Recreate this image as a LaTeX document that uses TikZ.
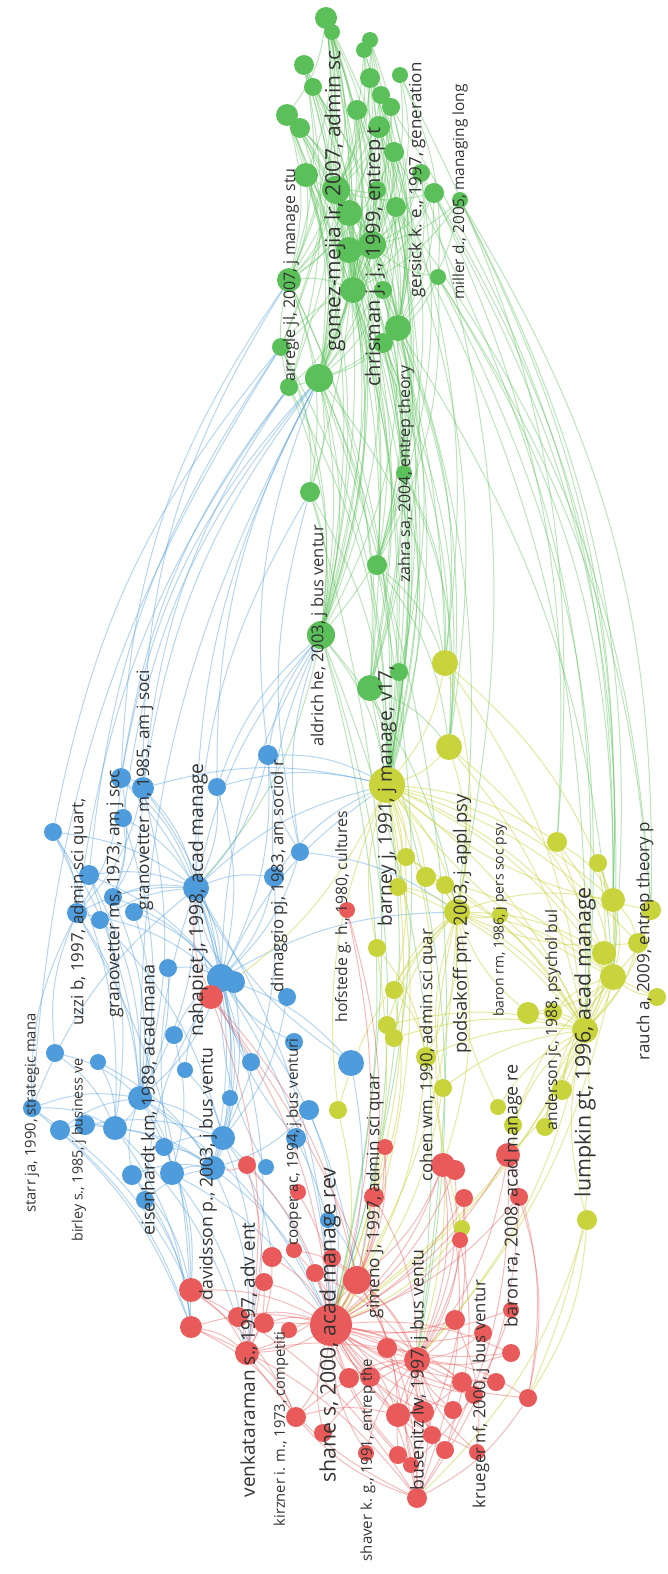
\documentclass[tikz,border=0pt]{standalone}
\usepackage{fontspec}
\setmainfont{Open Sans}
\usetikzlibrary{backgrounds}
\definecolor{gclr}{HTML}{5BC05A}
\definecolor{bclr}{HTML}{4E9CDB}
\definecolor{yclr}{HTML}{C9D33B}
\definecolor{rclr}{HTML}{E95A5A}
\begin{document}
\begin{tikzpicture}[x=1pt,y=-1pt,
    gnode/.style={circle,fill=gclr,inner sep=0pt,minimum size=#1},
    bnode/.style={circle,fill=bclr,inner sep=0pt,minimum size=#1},
    ynode/.style={circle,fill=yclr,inner sep=0pt,minimum size=#1},
    rnode/.style={circle,fill=rclr,inner sep=0pt,minimum size=#1},
    lbl/.style={rotate=90,inner sep=0pt,text=black!80,font=\fontsize{#1}{#1}\selectfont},
    gedge/.style={every edge/.style={draw=gclr,draw opacity=.42,line width=1pt,bend left=14}},
    bedge/.style={every edge/.style={draw=bclr,draw opacity=.42,line width=1pt,bend left=14}},
    yedge/.style={every edge/.style={draw=yclr,draw opacity=.5,line width=1pt,bend left=14}},
    redge/.style={every edge/.style={draw=rclr,draw opacity=.42,line width=1pt,bend left=14}},
    far/.style={bend left=16}]
    \useasboundingbox (0,0) rectangle (667,1574);

    % green cluster
    \node[gnode=22] (g1) at (326,18) {};
    \node[gnode=16] (g2) at (332,32) {};
    \node[gnode=16] (g3) at (370,40) {};
    \node[gnode=16] (g4) at (364,50) {};
    \node[gnode=20] (g5) at (304,65) {};
    \node[gnode=18] (g6) at (313,87) {};
    \node[gnode=20] (g7) at (370,78) {};
    \node[gnode=16] (g8) at (400,75) {};
    \node[gnode=18] (g9) at (381,95) {};
    \node[gnode=18] (g10) at (391,107) {};
    \node[gnode=20] (g11) at (357,110) {};
    \node[gnode=22] (g12) at (287,115) {};
    \node[gnode=20] (g13) at (300,128) {};
    \node[gnode=22] (g14) at (379,127) {};
    \node[gnode=20] (g15) at (394,152) {};
    \node[gnode=24] (g16) at (306,175) {};
    \node[gnode=28] (g17) at (336,190) {};
    \node[gnode=18] (g18) at (377,190) {};
    \node[gnode=18] (g19) at (421,173) {};
    \node[gnode=20] (g20) at (434,193) {};
    \node[gnode=16] (g21) at (460,200) {};
    \node[gnode=20] (g22) at (396,207) {};
    \node[gnode=26] (g23) at (349,213) {};
    \node[gnode=28] (g24) at (372,245) {};
    \node[gnode=26] (g25) at (349,250) {};
    \node[gnode=24] (g26) at (289,280) {};
    \node[gnode=16] (g27) at (438,277) {};
    \node[gnode=26] (g28) at (353,290) {};
    \node[gnode=18] (g29) at (383,290) {};
    \node[gnode=26] (g30) at (398,328) {};
    \node[gnode=20] (g31) at (383,343) {};
    \node[gnode=18] (g32) at (281,347) {};
    \node[gnode=28] (g33) at (319,378) {};
    \node[gnode=18] (g34) at (289,387) {};
    \node[gnode=20] (g35) at (310,492) {};
    \node[gnode=16] (g36) at (404,473) {};
    \node[gnode=20] (g37) at (377,565) {};
    \node[gnode=28] (g38) at (321,635) {};
    \node[gnode=18] (g39) at (399,672) {};
    \node[gnode=26] (g40) at (370,688) {};

    % blue cluster
    \node[bnode=20] (b1) at (268,755) {};
    \node[bnode=20] (b2) at (121,778) {};
    \node[bnode=22] (b3) at (143,788) {};
    \node[bnode=18] (b4) at (217,787) {};
    \node[bnode=18] (b5) at (123,818) {};
    \node[bnode=18] (b6) at (53,832) {};
    \node[bnode=20] (b7) at (89,875) {};
    \node[bnode=18] (b8) at (113,897) {};
    \node[bnode=20] (b9) at (77,913) {};
    \node[bnode=18] (b10) at (100,920) {};
    \node[bnode=18] (b11) at (134,912) {};
    \node[bnode=26] (b12) at (196,888) {};
    \node[bnode=18] (b13) at (300,852) {};
    \node[bnode=20] (b14) at (274,877) {};
    \node[bnode=18] (b15) at (168,968) {};
    \node[bnode=28] (b16) at (221,978) {};
    \node[bnode=22] (b17) at (234,982) {};
    \node[bnode=18] (b18) at (287,997) {};
    \node[bnode=18] (b19) at (174,1035) {};
    \node[bnode=18] (b20) at (55,1053) {};
    \node[bnode=16] (b21) at (98,1062) {};
    \node[bnode=16] (b22) at (185,1070) {};
    \node[bnode=16] (b23) at (230,1098) {};
    \node[bnode=24] (b24) at (140,1098) {};
    \node[bnode=20] (b25) at (60,1130) {};
    \node[bnode=20] (b26) at (85,1125) {};
    \node[bnode=24] (b27) at (115,1128) {};
    \node[bnode=18] (b28) at (164,1147) {};
    \node[bnode=24] (b29) at (223,1138) {};
    \node[bnode=16] (b30) at (266,1167) {};
    \node[bnode=18] (b31) at (251,1062) {};
    \node[bnode=18] (b32) at (294,1042) {};
    \node[bnode=20] (b33) at (309,1110) {};
    \node[bnode=20] (b34) at (296,1138) {};
    \node[bnode=26] (b35) at (351,1063) {};
    \node[bnode=20] (b36) at (132,1175) {};
    \node[bnode=24] (b37) at (172,1173) {};
    \node[bnode=24] (b38) at (213,1168) {};
    \node[bnode=18] (b39) at (145,1200) {};
    \node[bnode=16] (b40) at (328,1220) {};
    \node[bnode=18] (b41) at (32,1108) {};

    % yellow cluster
    \node[ynode=26] (y1) at (445,663) {};
    \node[ynode=26] (y2) at (449,747) {};
    \node[ynode=36] (y3) at (387,785) {};
    \node[ynode=18] (y4) at (406,857) {};
    \node[ynode=20] (y5) at (426,877) {};
    \node[ynode=26] (y6) at (457,912) {};
    \node[ynode=18] (y7) at (445,885) {};
    \node[ynode=18] (y8) at (377,948) {};
    \node[ynode=18] (y9) at (398,887) {};
    \node[ynode=20] (y10) at (557,842) {};
    \node[ynode=18] (y11) at (598,863) {};
    \node[ynode=24] (y12) at (613,900) {};
    \node[ynode=20] (y13) at (651,910) {};
    \node[ynode=20] (y14) at (638,943) {};
    \node[ynode=24] (y15) at (604,953) {};
    \node[ynode=26] (y16) at (613,977) {};
    \node[ynode=18] (y17) at (657,997) {};
    \node[ynode=26] (y18) at (585,1030) {};
    \node[ynode=22] (y19) at (528,1013) {};
    \node[ynode=18] (y20) at (394,990) {};
    \node[ynode=18] (y21) at (387,1025) {};
    \node[ynode=18] (y22) at (394,1038) {};
    \node[ynode=20] (y23) at (426,1057) {};
    \node[ynode=18] (y24) at (443,1088) {};
    \node[ynode=16] (y25) at (498,1107) {};
    \node[ynode=18] (y26) at (513,1125) {};
    \node[ynode=18] (y27) at (545,1127) {};
    \node[ynode=20] (y28) at (562,1090) {};
    \node[ynode=18] (y29) at (338,1110) {};
    \node[ynode=16] (y30) at (462,1228) {};
    \node[ynode=20] (y31) at (587,1220) {};
    \node[ynode=16] (y32) at (500,915) {};
    \node[ynode=18] (y33) at (553,1012) {};

    % red cluster
    \node[rnode=24] (r1) at (211,997) {};
    \node[rnode=16] (r2) at (347,910) {};
    \node[rnode=18] (r3) at (247,1165) {};
    \node[rnode=16] (r4) at (385,1147) {};
    \node[rnode=24] (r5) at (443,1165) {};
    \node[rnode=20] (r6) at (455,1170) {};
    \node[rnode=24] (r7) at (508,1155) {};
    \node[rnode=16] (r8) at (298,1192) {};
    \node[rnode=20] (r9) at (374,1197) {};
    \node[rnode=18] (r10) at (464,1198) {};
    \node[rnode=18] (r11) at (519,1197) {};
    \node[rnode=16] (r12) at (460,1240) {};
    \node[rnode=20] (r13) at (272,1257) {};
    \node[rnode=16] (r14) at (294,1250) {};
    \node[rnode=18] (r15) at (332,1258) {};
    \node[rnode=28] (r16) at (357,1280) {};
    \node[rnode=18] (r17) at (315,1273) {};
    \node[rnode=18] (r18) at (264,1282) {};
    \node[rnode=24] (r19) at (191,1290) {};
    \node[rnode=22] (r20) at (191,1327) {};
    \node[rnode=20] (r21) at (238,1317) {};
    \node[rnode=20] (r22) at (264,1323) {};
    \node[rnode=16] (r23) at (289,1330) {};
    \node[rnode=42] (r24) at (331,1325) {};
    \node[rnode=24] (r25) at (247,1353) {};
    \node[rnode=20] (r26) at (387,1348) {};
    \node[rnode=26] (r27) at (417,1360) {};
    \node[rnode=20] (r28) at (455,1320) {};
    \node[rnode=18] (r29) at (483,1333) {};
    \node[rnode=18] (r30) at (511,1353) {};
    \node[rnode=16] (r31) at (511,1310) {};
    \node[rnode=20] (r32) at (349,1378) {};
    \node[rnode=20] (r33) at (370,1377) {};
    \node[rnode=20] (r34) at (462,1382) {};
    \node[rnode=18] (r35) at (496,1382) {};
    \node[rnode=18] (r36) at (528,1398) {};
    \node[rnode=18] (r37) at (474,1395) {};
    \node[rnode=20] (r38) at (296,1417) {};
    \node[rnode=18] (r39) at (323,1433) {};
    \node[rnode=24] (r40) at (398,1415) {};
    \node[rnode=22] (r41) at (423,1412) {};
    \node[rnode=18] (r42) at (453,1410) {};
    \node[rnode=18] (r43) at (432,1435) {};
    \node[rnode=18] (r44) at (445,1450) {};
    \node[rnode=18] (r45) at (398,1455) {};
    \node[rnode=16] (r46) at (411,1465) {};
    \node[rnode=16] (r47) at (477,1452) {};
    \node[rnode=20] (r48) at (417,1498) {};
    \node[rnode=16] (r49) at (366,1453) {};

    \begin{pgfonlayer}{background}
    \path[gedge]
        (g1) edge (g33) (g1) edge (g26) (g1) edge (g28) (g1) edge (g30) (g1) edge (g16) (g1) edge (g12) (g1) edge (g25) (g1) edge (g34) (g1) edge (g32) (g1) edge (g17)
        (g2) edge (g32) (g2) edge (g28) (g2) edge (g24) (g3) edge (g30) (g3) edge (g24) (g3) edge (g17) (g4) edge (g17) (g4) edge (g31) (g4) edge (g26)
        (g5) edge (g33) (g5) edge (g17) (g5) edge (g28) (g6) edge (g24) (g6) edge (g30) (g7) edge (g28) (g7) edge (g23) (g8) edge (g22) (g8) edge (g27) (g8) edge (g24)
        (g9) edge (g17) (g9) edge (g29) (g10) edge (g25) (g10) edge (g30) (g11) edge (g33) (g11) edge (g24) (g12) edge (g17) (g12) edge (g33) (g13) edge (g28) (g13) edge (g24)
        (g14) edge (g30) (g14) edge (g26) (g15) edge (g26) (g15) edge (g28) (g16) edge (g24) (g16) edge (g33) (g17) edge (g24) (g17) edge (g28) (g17) edge (g30) (g17) edge (g33) (g17) edge (g26) (g17) edge (g22)
        (g18) edge (g25) (g19) edge (g24) (g19) edge (g30) (g20) edge (g28) (g20) edge (g17) (g21) edge (g30) (g21) edge (g24) (g22) edge (g33) (g23) edge (g30) (g23) edge (g26)
        (g24) edge (g33) (g24) edge (g28) (g24) edge (g30) (g25) edge (g32) (g25) edge (g30) (g26) edge (g28) (g27) edge (g31) (g29) edge (g33) (g28) edge (g34) (g30) edge (g34)
        (g2) edge (g33) (g2) edge (g26) (g3) edge (g28) (g3) edge (g33) (g4) edge (g24) (g4) edge (g33) (g5) edge (g26) (g5) edge (g34) (g6) edge (g28) (g6) edge (g33)
        (g7) edge (g30) (g7) edge (g17) (g9) edge (g24) (g9) edge (g30) (g10) edge (g28) (g11) edge (g28) (g11) edge (g17) (g12) edge (g26) (g12) edge (g28) (g13) edge (g33)
        (g13) edge (g17) (g14) edge (g24) (g14) edge (g17) (g15) edge (g24) (g15) edge (g30) (g16) edge (g28) (g16) edge (g26) (g18) edge (g30) (g18) edge (g28) (g19) edge (g28)
        (g20) edge (g30) (g20) edge (g24) (g21) edge (g28) (g22) edge (g28) (g22) edge (g24) (g23) edge (g33) (g23) edge (g24) (g25) edge (g33) (g25) edge (g28) (g27) edge (g24)
        (g29) edge (g30) (g31) edge (g33) (g32) edge (g28) (g34) edge (g26)
        (g33) edge (g38) (g30) edge (g38) (g28) edge (g38) (g26) edge (g38) (g24) edge (g38) (g17) edge (g38) (g34) edge (g38) (g32) edge (g38) (g31) edge (g36) (g30) edge (g36)
        (g24) edge (g36) (g22) edge (g37) (g28) edge (g37) (g33) edge (g35) (g35) edge (g38) (g36) edge (g38) (g1) edge (g35) (g12) edge (g38) (g16) edge (g37) (g25) edge (g36) (g27) edge (g37)
        (g33) edge (g40) (g28) edge (g40) (g24) edge (g40) (g17) edge (g40) (g30) edge (g39) (g26) edge (g40)
        (g1) edge (g38) (g5) edge (g38) (g12) edge (g40) (g16) edge (g38) (g23) edge (g38) (g25) edge (g38) (g13) edge (g37) (g29) edge (g37) (g31) edge (g40) (g22) edge (g40)
        (g15) edge (g36) (g14) edge (g37) (g11) edge (g36) (g19) edge (g37) (g26) edge (g35) (g32) edge (g35)
        (g24) edge (y3) (g28) edge (y3) (g30) edge (y3) (g17) edge (y3) (g33) edge (y3) (g33) edge (y1) (g26) edge (y3) (g30) edge (y1) (g21) edge (y12) (g27) edge (y13)
        (g20) edge (y10) (g19) edge (y6) (g31) edge (y2) (g38) edge (y3) (g40) edge (y3) (g36) edge (y1) (g37) edge (y1) (g38) edge (y6) (g40) edge (y2) (g39) edge (y3)
        (g37) edge (y3) (g22) edge (y18) (g30) edge (y16) (g24) edge (y6) (g28) edge (y2) (g36) edge (y2) (g37) edge (y2)
        (g1) edge (y3) (g5) edge (y3) (g12) edge (y3) (g16) edge (y3) (g23) edge (y3) (g25) edge (y3) (g13) edge (y1) (g14) edge (y1) (g22) edge (y2) (g29) edge (y2)
        (g31) edge (y3) (g34) edge (y3) (g32) edge (y3) (g35) edge (y3) (g36) edge (y3)
        (g21) edge[far] (y13) (g21) edge[far] (y16) (g27) edge[far] (y12) (g27) edge[far] (y18) (g20) edge[far] (y12) (g19) edge[far] (y16) (g15) edge[far] (y18) (g22) edge[far] (y13)
        (g8) edge[far] (y10) (g10) edge[far] (y12)
        (g38) edge (r24) (g40) edge (r24) (g33) edge (r27) (g38) edge (b12) (g35) edge (r24) (g38) edge (r16) (g38) edge (r27) (g40) edge (r27) (g37) edge (r24);
    \path[bedge]
        (b1) edge (b12) (b1) edge (b16) (b2) edge (b12) (b2) edge (b3) (b2) edge (b9) (b3) edge (b12) (b3) edge (b8) (b3) edge (b16) (b4) edge (b12) (b4) edge (b16)
        (b5) edge (b8) (b5) edge (b24) (b6) edge (b9) (b6) edge (b24) (b6) edge (b27) (b7) edge (b12) (b7) edge (b27) (b8) edge (b12) (b8) edge (b16) (b8) edge (b24)
        (b9) edge (b12) (b9) edge (b24) (b9) edge (b16) (b10) edge (b29) (b11) edge (b16) (b12) edge (b16) (b12) edge (b24) (b12) edge (b29) (b12) edge (b38) (b12) edge (b14)
        (b13) edge (b16) (b14) edge (b16) (b14) edge (b29) (b15) edge (b24) (b16) edge (b29) (b16) edge (b38) (b16) edge (b24) (b16) edge (b35) (b17) edge (b38) (b18) edge (b29)
        (b19) edge (b37) (b20) edge (b27) (b21) edge (b38) (b22) edge (b29) (b23) edge (b38) (b24) edge (b27) (b24) edge (b38) (b24) edge (b29) (b24) edge (b37) (b25) edge (b24)
        (b26) edge (b29) (b27) edge (b38) (b28) edge (b29) (b30) edge (b16) (b31) edge (b12) (b32) edge (b16) (b33) edge (b38) (b34) edge (b16) (b35) edge (b12) (b36) edge (b24)
        (b37) edge (b12) (b39) edge (b16) (b41) edge (b24) (b41) edge (b12) (b41) edge (b27) (b13) edge (b1)
        (b2) edge (b8) (b2) edge (b16) (b3) edge (b9) (b3) edge (b24) (b5) edge (b12) (b6) edge (b12) (b7) edge (b16) (b7) edge (b24) (b10) edge (b12) (b11) edge (b24)
        (b15) edge (b16) (b17) edge (b12) (b19) edge (b16) (b20) edge (b24) (b21) edge (b27) (b22) edge (b16) (b25) edge (b27) (b26) edge (b38) (b28) edge (b38) (b36) edge (b38)
        (b37) edge (b38) (b39) edge (b38) (b41) edge (b9) (b20) edge (b9)
        (b2) edge (g34) (b3) edge (g33) (b1) edge (g38) (b4) edge (g38) (b12) edge (g33) (b41) edge (g32) (b6) edge (g32) (b13) edge (g38)
        (b2) edge[far] (g33) (b2) edge[far] (g26) (b3) edge[far] (g26) (b3) edge (g34) (b5) edge[far] (g33) (b7) edge (g32) (b9) edge (g34) (b12) edge (g38)
        (b12) edge (g35) (b4) edge (g33) (b1) edge (g33) (b13) edge (g35) (b14) edge (g38) (b16) edge (g38) (b24) edge (g33)
        (b38) edge (r24) (b29) edge (r24) (b16) edge (r24) (b16) edge (r25) (b24) edge (r19) (b27) edge (r20) (b36) edge (r20) (b37) edge (r24) (b12) edge (r24) (b38) edge (r25)
        (b29) edge (r13) (b24) edge (r24) (b41) edge (r19) (b9) edge (r20) (b35) edge (r24) (b12) edge (y3) (b14) edge (y3) (b16) edge (y6)
        (b36) edge (r19) (b39) edge (r20) (b37) edge (r25) (b28) edge (r19) (b27) edge (r25) (b41) edge (r20) (b25) edge (r20) (b16) edge (r16) (b29) edge (r25) (b33) edge (r24)
        (b34) edge (r24) (b40) edge (r16) (b3) edge (y3) (b4) edge (y3) (b1) edge (y3) (b13) edge (y6) (b16) edge (y3);
    \path[yedge]
        (y1) edge (y3) (y2) edge (y3) (y1) edge (y12) (y2) edge (y16) (y3) edge (y6) (y3) edge (y18) (y3) edge (y16) (y3) edge (y12) (y3) edge (y5) (y3) edge (y4)
        (y3) edge (y9) (y3) edge (y20) (y3) edge (y23) (y4) edge (y6) (y5) edge (y6) (y6) edge (y18) (y6) edge (y16) (y6) edge (y23) (y7) edge (y6) (y8) edge (y23)
        (y9) edge (y6) (y10) edge (y16) (y10) edge (y18) (y11) edge (y16) (y12) edge (y18) (y12) edge (y16) (y13) edge (y16) (y14) edge (y18) (y15) edge (y18) (y16) edge (y18)
        (y17) edge (y16) (y19) edge (y18) (y20) edge (y23) (y21) edge (y18) (y22) edge (y6) (y23) edge (y18) (y24) edge (y18) (y25) edge (y18) (y26) edge (y16) (y27) edge (y18)
        (y28) edge (y16) (y29) edge (y3) (y32) edge (y6) (y33) edge (y16) (y31) edge (y18) (y30) edge (y6) (y13) edge (y3) (y17) edge (y3) (y14) edge (y6)
        (y1) edge (y6) (y2) edge (y6) (y2) edge (y18) (y1) edge (y18) (y3) edge (y10) (y3) edge (y14) (y3) edge (y15) (y4) edge (y18) (y5) edge (y16) (y6) edge (y12)
        (y6) edge (y15) (y7) edge (y18) (y9) edge (y18) (y10) edge (y12) (y11) edge (y18) (y12) edge (y14) (y13) edge (y18) (y15) edge (y16) (y16) edge (y19) (y19) edge (y6)
        (y20) edge (y6) (y21) edge (y6) (y22) edge (y18) (y24) edge (y6) (y25) edge (y6) (y26) edge (y18) (y27) edge (y16) (y28) edge (y18) (y32) edge (y18) (y33) edge (y18)
        (y8) edge (y3) (y29) edge (y6)
        (y3) edge (r24) (y18) edge (r24) (y6) edge (r5) (y23) edge (r24) (y18) edge (r7) (y16) edge (r27) (y31) edge (r36) (y29) edge (r24) (y3) edge (r1) (y20) edge (r9)
        (y6) edge (r24) (y16) edge (r24) (y18) edge (r27) (y23) edge (r27) (y24) edge (r24) (y3) edge (r16) (y31) edge (r48) (y18) edge (r36) (y30) edge (r24) (y26) edge (r7)
        (y8) edge (r24);
    \path[redge]
        (r1) edge (r24) (r1) edge (r25) (r1) edge (r16) (r2) edge (r24) (r2) edge (r16) (r3) edge (r24) (r4) edge (r24) (r5) edge (r24) (r5) edge (r27) (r6) edge (r27)
        (r7) edge (r27) (r7) edge (r24) (r8) edge (r24) (r9) edge (r24) (r9) edge (r27) (r10) edge (r27) (r11) edge (r24) (r12) edge (r27) (r13) edge (r24) (r14) edge (r24)
        (r15) edge (r24) (r16) edge (r24) (r16) edge (r27) (r16) edge (r25) (r17) edge (r24) (r18) edge (r25) (r19) edge (r24) (r19) edge (r25) (r20) edge (r24) (r20) edge (r38)
        (r21) edge (r24) (r22) edge (r27) (r23) edge (r24) (r24) edge (r25) (r24) edge (r27) (r24) edge (r38) (r24) edge (r40) (r24) edge (r48) (r24) edge (r34) (r24) edge (r30)
        (r25) edge (r27) (r25) edge (r38) (r26) edge (r24) (r27) edge (r40) (r27) edge (r48) (r27) edge (r34) (r27) edge (r36) (r28) edge (r24) (r29) edge (r27) (r30) edge (r27)
        (r31) edge (r24) (r32) edge (r27) (r33) edge (r24) (r35) edge (r27) (r36) edge (r24) (r37) edge (r24) (r38) edge (r40) (r39) edge (r24) (r41) edge (r24) (r42) edge (r24)
        (r43) edge (r24) (r44) edge (r27) (r45) edge (r24) (r46) edge (r24) (r47) edge (r24) (r48) edge (r25) (r49) edge (r24) (r48) edge (r38) (r19) edge (r48) (r20) edge (r48)
        (r36) edge (r48) (r11) edge (r36) (r7) edge (r36) (r1) edge (b12) (r1) edge (b16) (r3) edge (b38)
        (r3) edge (r25) (r13) edge (r25) (r14) edge (r16) (r15) edge (r27) (r17) edge (r27) (r18) edge (r24) (r21) edge (r25) (r22) edge (r24) (r26) edge (r27) (r28) edge (r27)
        (r29) edge (r24) (r30) edge (r24) (r32) edge (r24) (r33) edge (r27) (r34) edge (r40) (r35) edge (r24) (r37) edge (r27) (r38) edge (r27) (r39) edge (r27) (r40) edge (r48)
        (r41) edge (r27) (r42) edge (r27) (r43) edge (r27) (r44) edge (r24) (r45) edge (r27) (r46) edge (r27) (r47) edge (r27) (r49) edge (r27) (r20) edge (r25) (r19) edge (r38)
        (r16) edge (r40) (r16) edge (r48) (r9) edge (r16) (r4) edge (r16) (r5) edge (r16) (r6) edge (r24) (r10) edge (r24) (r12) edge (r24)
        (r7) edge[far] (r48) (r11) edge[far] (r48) (r5) edge[far] (r48) (r10) edge (r46) (r12) edge (r44) (r31) edge (r46) (r28) edge (r47) (r1) edge (r48);
    \end{pgfonlayer}

    % labels
    \node[lbl=16] (Larregle) at (291,275) {arregle jl, 2007, j manage stu};
    \node[lbl=21] (Lgomez) at (335,201) {gomez-mejia lr, 2007, admin sc};
    \node[lbl=20] (Lchrisman) at (375,257) {chrisman j. j., 1999, entrep t};
    \node[lbl=17] (Lgersick) at (417,180) {gersick k. e., 1997, generation};
    \node[lbl=15.4] (Lmiller) at (460,192) {miller d., 2005, managing long};
    \node[lbl=16] (Lzahra) at (406,474) {zahra sa, 2004, entrep theory};
    \node[lbl=16.5] (Laldrich) at (319,636) {aldrich he, 2003, j bus ventur};
    \node[lbl=19] (Lbarney) at (387,796) {barney j, 1991, j manage, v17,};
    \node[lbl=17.2] (Lgranovm) at (145,790) {granovetter m, 1985, am j soci};
    \node[lbl=16.9] (Luzzi) at (79,912) {uzzi b, 1997, admin sci quart,};
    \node[lbl=17.4] (Lgranovms) at (115,894) {granovetter ms, 1973, am j soc};
    \node[lbl=19.3] (Lnahapiet) at (198,900) {nahapiet j, 1998, acad manage};
    \node[lbl=16.8] (Ldimaggio) at (279,876) {dimaggio pj, 1983, am sociol r};
    \node[lbl=15.7] (Lhofstede) at (343,917) {hofstede g. h., 1980, cultures};
    \node[lbl=18.3] (Lpodsakoff) at (462,924) {podsakoff pm, 2003, j appl psy};
    \node[lbl=13.9] (Lbaronrm) at (500,920) {baron rm, 1986, j pers soc psy};
    \node[lbl=16.8] (Lcohen) at (428,1055) {cohen wm, 1990, admin sci quar};
    \node[lbl=15.7] (Landerson) at (553,1020) {anderson jc, 1988, psychol bul};
    \node[lbl=21.4] (Llumpkin) at (585,1042) {lumpkin gt, 1996, acad manage};
    \node[lbl=17] (Lrauch) at (645,941) {rauch a, 2009, entrep theory p};
    \node[lbl=14.8] (Lstarr) at (32,1113) {starr ja, 1990, strategic mana};
    \node[lbl=14.3] (Lbirley) at (79,1150) {birley s., 1985, j business ve};
    \node[lbl=17.9] (Leisenhardt) at (149,1100) {eisenhardt km, 1989, acad mana};
    \node[lbl=17.7] (Ldavidsson) at (208,1174) {davidsson p., 2003, j bus ventu};
    \node[lbl=15.2] (Lcooper) at (294,1142) {cooper ac, 1994, j bus venturi};
    \node[lbl=17.2] (Lgimeno) at (375,1196) {gimeno j, 1997, admin sci quar};
    \node[lbl=17.9] (Lbaronra) at (513,1196) {baron ra, 2008, acad manage re};
    \node[lbl=19] (Lvenkat) at (249,1360) {venkataraman s., 1997, adv ent};
    \node[lbl=14.7] (Lkirzner) at (281,1429) {kirzner i. m., 1973, competiti};
    \node[lbl=21.3] (Lshane) at (330,1325) {shane s, 2000, acad manage rev};
    \node[lbl=15] (Lshaver) at (368,1460) {shaver k. g., 1991, entrep the};
    \node[lbl=17.7] (Lbusenitz) at (419,1370) {busenitz lw, 1997, j bus ventu};
    \node[lbl=16.7] (Lkrueger) at (481,1394) {krueger nf, 2000, j bus ventur};
\end{tikzpicture}
\end{document}
